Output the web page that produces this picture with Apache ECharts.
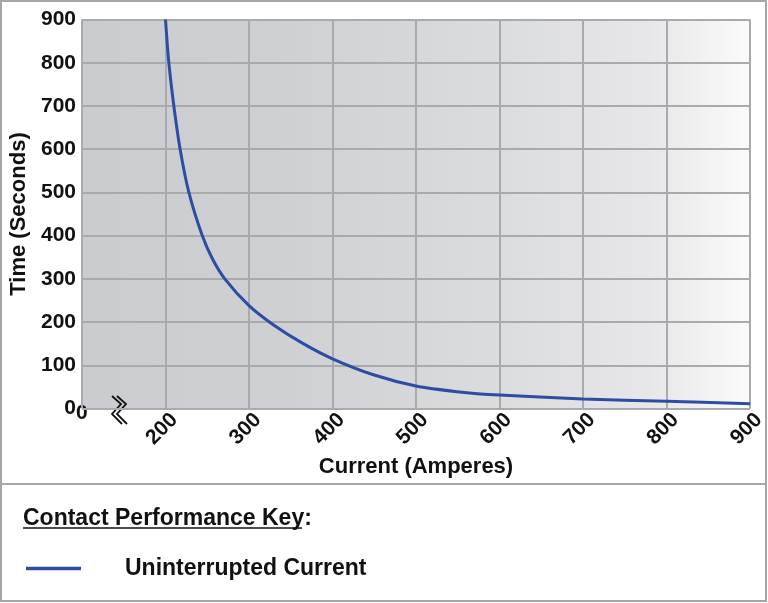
<!DOCTYPE html>
<html>
<head>
<meta charset="utf-8">
<script src="https://cdn.jsdelivr.net/npm/echarts@6/dist/echarts.min.js"></script>
<style>
  html, body { margin: 0; padding: 0; background: #fff; }
  #chart { width: 768px; height: 603px; }
</style>
</head>
<body>
<div id="chart"></div>
<script>
  // values
  const currentAmps = [200, 204, 210, 217.5, 228, 244, 256, 271, 300, 329, 365, 400, 449, 500, 549, 600, 700, 800, 900];
  const timeSeconds = [900, 800, 700, 600, 500, 400, 347, 300, 238, 194, 150, 115, 78, 52, 39, 31, 22, 17, 11];
  const xTicks = [100, 200, 300, 400, 500, 600, 700, 800, 900];
  const yTicks = [0, 100, 200, 300, 400, 500, 600, 700, 800, 900];
  const seriesName = 'Uninterrupted Current';

  const font = '"Liberation Sans", Arial, sans-serif';
  const ink = '#111';
  const blue = '#2f4ca3';
  const gridGray = '#a9aaac';

  const chart = echarts.init(document.getElementById('chart'));

  const points = currentAmps.map((x, i) => [x, timeSeconds[i]]);

  chart.setOption({
    animation: false,
    title: {
      text: 'Contact Performance Key:',
      left: 18,
      top: 502,
      textStyle: { fontFamily: font, fontSize: 23, fontWeight: 'bold', color: ink }
    },
    legend: {
      left: 21,
      top: 552,
      icon: 'rect',
      itemWidth: 55,
      itemHeight: 3.5,
      data: [seriesName],
      formatter: name => '{a|' + name + '}',
      textStyle: {
        rich: {
          a: { fontFamily: font, fontSize: 23, fontWeight: 'bold', color: ink, padding: [0, 0, 0, 39] }
        }
      }
    },
    grid: {
      left: 82, right: 18, top: 19.5, bottom: 194.5,
      outerBoundsMode: 'none',
      containLabel: false,
      show: true,
      borderWidth: 0,
      backgroundColor: new echarts.graphic.LinearGradient(0, 0, 1, 0, [
        { offset: 0, color: '#cbccd0' },
        { offset: 0.3, color: '#cfd0d3' },
        { offset: 0.6, color: '#dadbdd' },
        { offset: 0.85, color: '#e7e7e9' },
        { offset: 1, color: '#fbfbfb' }
      ])
    },
    xAxis: {
      type: 'value',
      min: xTicks[0],
      max: xTicks[xTicks.length - 1],
      interval: 100,
      name: 'Current (Amperes)',
      nameLocation: 'middle',
      nameGap: 47,
      nameTextStyle: { fontFamily: font, fontSize: 22, fontWeight: 'bold', color: ink },
      axisLine: { show: false },
      axisTick: { show: false },
      axisLabel: {
        rotate: 45,
        margin: 17,
        align: 'center',
        verticalAlign: 'middle',
        formatter: v => (v === xTicks[0] ? '' : '{t|' + v + '}'),
        rich: {
          t: { fontFamily: font, fontSize: 21, fontWeight: 'bold', color: ink, padding: [0, 10, 0, 0] }
        }
      },
      splitLine: { show: true, lineStyle: { color: gridGray, width: 2 } }
    },
    yAxis: {
      type: 'value',
      min: yTicks[0],
      max: yTicks[yTicks.length - 1],
      interval: 100,
      name: 'Time (Seconds)',
      nameLocation: 'middle',
      nameGap: 48,
      nameTextStyle: { fontFamily: font, fontSize: 22, fontWeight: 'bold', color: ink },
      axisLine: { show: false },
      axisTick: { show: false },
      axisLabel: { margin: 6, fontFamily: font, fontSize: 21, fontWeight: 'bold', color: ink },
      splitLine: { show: true, lineStyle: { color: gridGray, width: 2 } }
    },
    series: [{
      name: seriesName,
      type: 'line',
      data: points,
      smooth: 0.3,
      showSymbol: false,
      clip: true,
      color: blue,
      lineStyle: { color: blue, width: 3 }
    }],
    graphic: [
      // outer frame and divider
      { type: 'rect', z: -10, shape: { x: 1, y: 1, width: 765, height: 600 },
        style: { fill: 'none', stroke: '#a6a6a6', lineWidth: 2 } },
      { type: 'line', shape: { x1: 1, y1: 484, x2: 766, y2: 484 },
        style: { stroke: '#a6a6a6', lineWidth: 2 } },
      // underline of the key title
      { type: 'line', shape: { x1: 23, y1: 528, x2: 302, y2: 528 },
        style: { stroke: ink, lineWidth: 1.6 } },
      // x axis "0" label and axis break mark
      { type: 'text', left: 76, top: 403,
        style: { text: '0', font: 'bold 21px ' + font, fill: ink } },
      { type: 'polyline', shape: { points: [[112, 396], [121, 404], [112, 414], [122, 424]] },
        style: { stroke: ink, lineWidth: 1.8, fill: 'none' } },
      { type: 'polyline', shape: { points: [[117, 396], [126, 404], [117, 414], [127, 424]] },
        style: { stroke: ink, lineWidth: 1.8, fill: 'none' } }
    ]
  });
</script>
</body>
</html>
